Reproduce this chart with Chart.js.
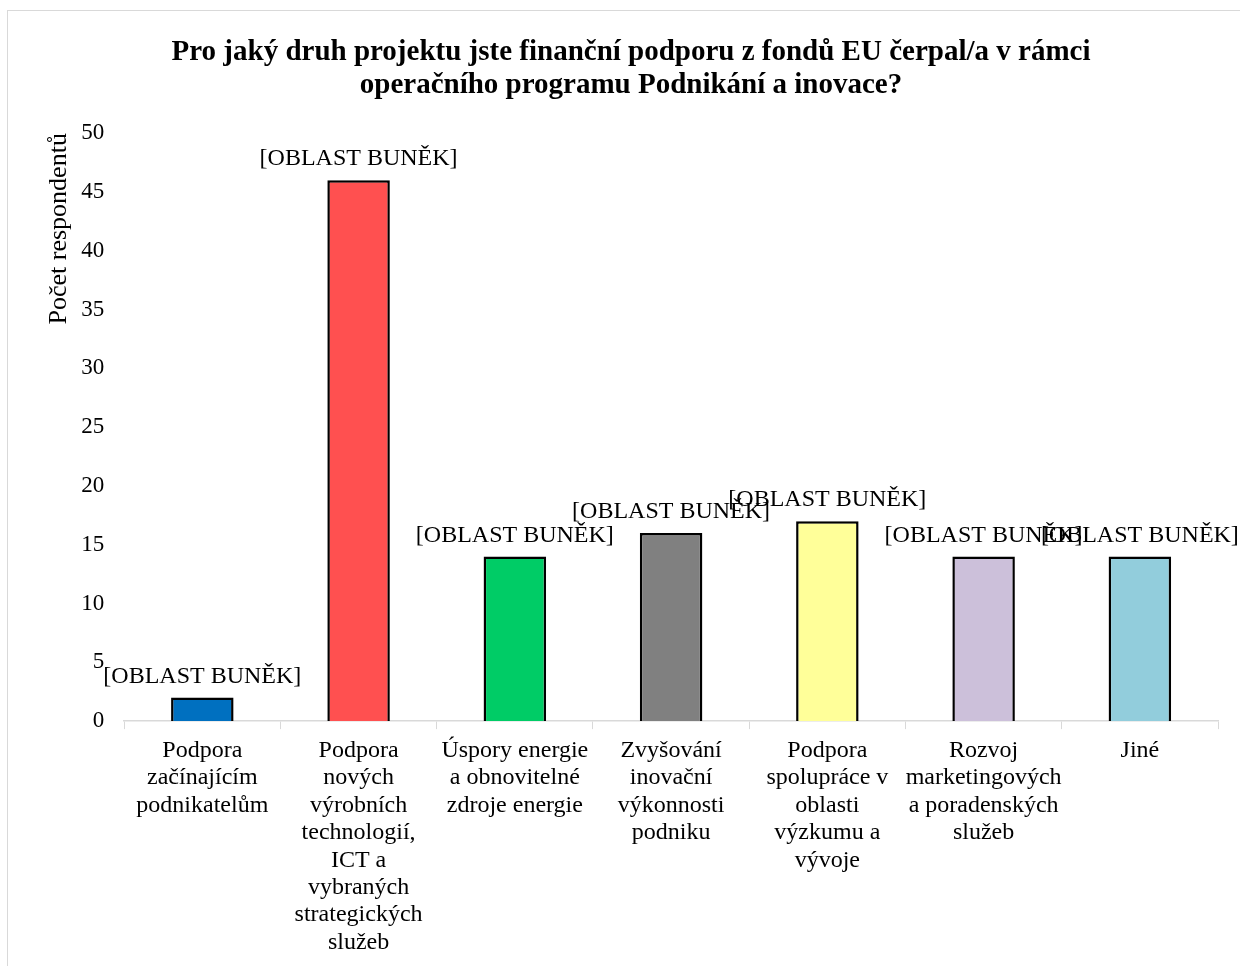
<!DOCTYPE html>
<html>
<head>
<meta charset="utf-8">
<script src="https://cdn.jsdelivr.net/npm/chart.js@4"></script>
<style>
  html, body { margin: 0; padding: 0; background: #fff; }
  #wrap { width: 1240px; height: 966px; position: relative; }
</style>
</head>
<body>
<div id="wrap"><canvas id="myChart" width="1240" height="966"></canvas></div>
<script>
// categories (wrapped like in the source chart)
const categories = [
  ['Podpora', 'začínajícím', 'podnikatelům'],
  ['Podpora', 'nových', 'výrobních', 'technologií,', 'ICT a', 'vybraných', 'strategických', 'služeb'],
  ['Úspory energie', 'a obnovitelné', 'zdroje energie'],
  ['Zvyšování', 'inovační', 'výkonnosti', 'podniku'],
  ['Podpora', 'spolupráce v', 'oblasti', 'výzkumu a', 'vývoje'],
  ['Rozvoj', 'marketingových', 'a poradenských', 'služeb'],
  ['Jiné']
];
const respondents = [2, 46, 14, 16, 17, 14, 14];
const barColors = ['#0070C0', '#FF5050', '#00CC66', '#808080', '#FFFF99', '#CCC0DA', '#92CDDC'];
const yTicks = [0, 5, 10, 15, 20, 25, 30, 35, 40, 45, 50];
const labelText = '[OBLAST BUNĚK]';

const serif = '"Liberation Serif", "Times New Roman", serif';

// frame around the chart
const framePlugin = {
  id: 'frame',
  beforeDraw(chart) {
    const ctx = chart.ctx;
    ctx.save();
    ctx.fillStyle = '#fff';
    ctx.fillRect(0, 0, chart.width, chart.height);
    ctx.strokeStyle = '#d9d9d9';
    ctx.lineWidth = 1;
    ctx.strokeRect(7.5, 10.5, 1400, 1200);
    ctx.restore();
  }
};

// data labels above bars
const barLabels = {
  id: 'barLabels',
  afterDatasetsDraw(chart) {
    const ctx = chart.ctx;
    const meta = chart.getDatasetMeta(0);
    ctx.save();
    ctx.font = '24px ' + serif;
    ctx.fillStyle = '#000';
    ctx.textAlign = 'center';
    ctx.textBaseline = 'bottom';
    meta.data.forEach((bar) => {
      ctx.fillText(labelText, bar.x, bar.y - 9);
    });
    ctx.restore();
  }
};

new Chart(document.getElementById('myChart'), {
  type: 'bar',
  data: {
    labels: categories,
    datasets: [{
      data: respondents,
      backgroundColor: barColors,
      borderColor: '#000',
      borderWidth: 2.5,
      borderSkipped: 'bottom',
      categoryPercentage: 1,
      barPercentage: 0.4
    }]
  },
  options: {
    responsive: false,
    animation: false,
    layout: { padding: { top: 36, left: 44, right: 22, bottom: 2 } },
    plugins: {
      legend: { display: false },
      tooltip: { enabled: false },
      title: {
        display: true,
        text: ['Pro jaký druh projektu jste finanční podporu z fondů EU čerpal/a v rámci',
               'operačního programu Podnikání a inovace?'],
        color: '#000',
        font: { family: serif, size: 29, weight: 'bold', lineHeight: 1.14 },
        padding: { top: 0, bottom: 31 }
      }
    },
    scales: {
      x: {
        grid: {
          display: true,
          drawOnChartArea: false,
          drawTicks: true,
          tickLength: 8,
          color: '#d9d9d9',
          offset: true
        },
        border: { display: true, color: '#d9d9d9', width: 1.5 },
        ticks: {
          color: '#000',
          font: { family: serif, size: 24, lineHeight: 1.14 },
          maxRotation: 0,
          autoSkip: false,
          padding: 8
        }
      },
      y: {
        min: 0,
        max: 50,
        afterBuildTicks(axis) {
          axis.ticks = yTicks.map(v => ({ value: v }));
        },
        grid: { display: false },
        border: { display: false },
        ticks: {
          color: '#000',
          font: { family: serif, size: 23 },
          padding: 12
        },
        title: {
          display: true,
          text: 'Počet respondentů',
          align: 'end',
          color: '#000',
          font: { family: serif, size: 26 },
          padding: { top: 0, bottom: -6 }
        }
      }
    }
  },
  plugins: [framePlugin, barLabels]
});
</script>
</body>
</html>
